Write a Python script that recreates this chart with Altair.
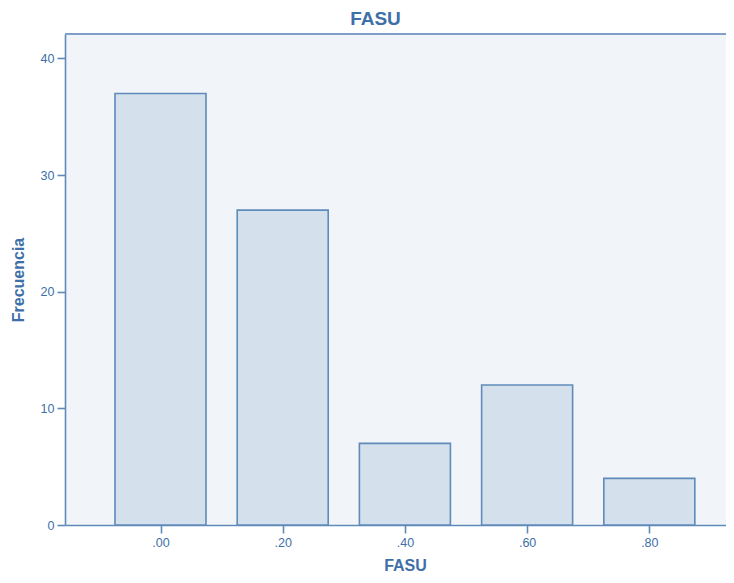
import altair as alt
import pandas as pd

categories = [0.0, 0.2, 0.4, 0.6, 0.8]
frequencies = [37, 27, 7, 12, 4]
tick_values = [0.0, 0.2, 0.4, 0.6, 0.8]

df = pd.DataFrame({"FASU": categories, "Frecuencia": frequencies})

TEXT = "#3e6fa8"
LINE = "#5f8aba"
FONT = "Liberation Sans"

bars = alt.Chart(df).mark_bar(
    size=91, fill="#d4e0eb", stroke="#5f8aba", strokeWidth=1.6
).encode(
    x=alt.X("FASU:Q",
            scale=alt.Scale(domain=[-0.1563, 0.9255], nice=False, zero=False, padding=0),
            axis=alt.Axis(values=tick_values,
                          labelExpr="replace(format(datum.value, '.2f'), '0.', '.')",
                          title="FASU", grid=False, titleX=340)),
    y=alt.Y("Frecuencia:Q",
            scale=alt.Scale(domain=[0, 42.1], nice=False, padding=0),
            axis=alt.Axis(values=[0, 10, 20, 30, 40], title="Frecuencia", grid=False)),
)

top_border = alt.Chart(df).mark_rule(color="#7f9fc8", strokeWidth=2).encode(
    x=alt.value(0), x2=alt.value(661), y=alt.value(0)
)

chart = alt.layer(bars, top_border).properties(
    width=661, height=491,
    autosize=alt.AutoSizeParams(type="none"),
    padding={"left": 57, "top": 26, "right": 0, "bottom": 50},
    title=alt.TitleParams("FASU", fontSize=19, fontWeight="bold", color=TEXT,
                          font=FONT, anchor="middle", dx=-20, offset=4),
).configure_view(
    fill="#f1f5f9", stroke=None
).configure_axis(
    domainColor=LINE, domainWidth=1.6, tickColor=LINE, tickWidth=1.6, tickSize=8,
    labelColor=TEXT, labelFont=FONT, labelFontSize=12.5, labelPadding=3,
    titleColor=TEXT, titleFont=FONT, titleFontSize=16, titleFontWeight="bold",
).configure_axisX(
    titlePadding=9
).configure_axisY(
    titlePadding=14
)

chart.save("out.html", embed_options={"renderer": "svg", "actions": False})
